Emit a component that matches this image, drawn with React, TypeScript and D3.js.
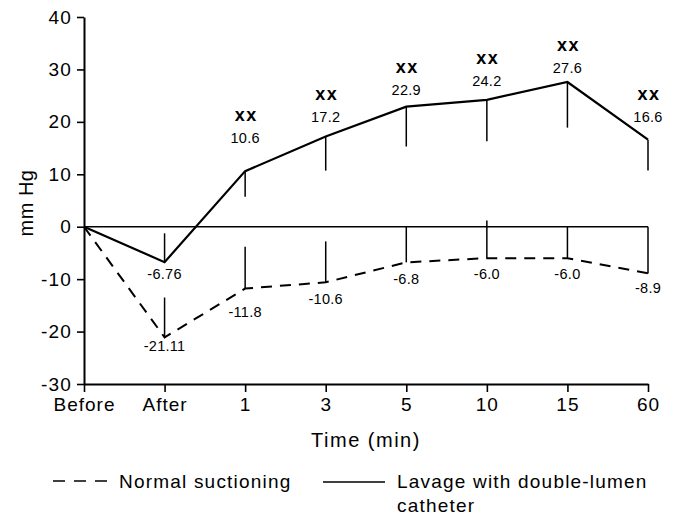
import React, { useEffect, useRef } from 'react';
import * as d3 from 'd3';

// categories on the time axis
const times = ['Before', 'After', '1', '3', '5', '10', '15', '60'];

// lavage with double-lumen catheter (solid)
const lavage = [0, -6.76, 10.6, 17.2, 22.9, 24.2, 27.6, 16.6];
const lavageSd = [0, 5.5, 4.9, 6.5, 7.6, 7.9, 8.7, 5.9];
const lavageMarks = ['', '', 'xx', 'xx', 'xx', 'xx', 'xx', 'xx'];

// normal suctioning (dashed)
const normal = [0, -21.11, -11.8, -10.6, -6.8, -6.0, -6.0, -8.9];
const normalSd = [0, 7.6, 8.0, 7.8, 6.8, 7.2, 6.0, 8.9];

const lavageLabels = ['', '-6.76', '10.6', '17.2', '22.9', '24.2', '27.6', '16.6'];
const normalLabels = ['', '-21.11', '-11.8', '-10.6', '-6.8', '-6.0', '-6.0', '-8.9'];

const yTicks = [40, 30, 20, 10, 0, -10, -20, -30];

const FONT = 'Liberation Sans, Arial, Helvetica, sans-serif';

const App = () => {
  const svgRef = useRef<SVGSVGElement>(null);

  useEffect(() => {
    const svg = d3.select(svgRef.current);
    svg.selectAll('*').remove();

    const width = 675;
    const height = 515;
    svg.attr('width', width).attr('height', height);

    const x = d3.scalePoint<string>().domain(times).range([84, 648]).padding(0);
    const y = d3.scaleLinear().domain([-30, 40]).range([384, 17]);

    // y axis
    svg.append('g')
      .attr('transform', 'translate(84,0)')
      .call(d3.axisLeft(y).tickValues(yTicks).tickFormat(d => String(d))
        .tickSize(7).tickSizeOuter(0).tickPadding(5))
      .call(g => g.select('.domain').attr('stroke-width', 2))
      .call(g => g.selectAll('.tick line').attr('stroke-width', 1.6))
      .call(g => g.selectAll('.tick text')
        .attr('font-family', FONT).attr('font-size', 19).attr('letter-spacing', 1.2).attr('fill', '#000'));

    // x axis
    svg.append('g')
      .attr('transform', `translate(0,${y(-30)})`)
      .call(d3.axisBottom(x).tickSize(8).tickSizeOuter(0).tickPadding(6))
      .call(g => g.select('.domain').attr('stroke-width', 2))
      .call(g => g.selectAll('.tick line').attr('stroke-width', 1.6))
      .call(g => g.selectAll('.tick text')
        .attr('font-family', FONT).attr('font-size', 19).attr('letter-spacing', 1).attr('fill', '#000'));

    // zero line
    svg.append('line')
      .attr('x1', x('Before')).attr('x2', x('60'))
      .attr('y1', y(0)).attr('y2', y(0))
      .attr('stroke', '#000').attr('stroke-width', 1.5);

    const line = d3.line<number>()
      .x((_, i) => x(times[i]) as number)
      .y(d => y(d));

    // error bars point towards zero
    const bars = (vals: number[], sds: number[]) => {
      svg.append('g').selectAll('line')
        .data(vals.map((v, i) => ({ v, sd: sds[i], t: times[i] })).filter(d => d.sd > 0))
        .join('line')
        .attr('x1', d => x(d.t) as number).attr('x2', d => x(d.t) as number)
        .attr('y1', d => y(d.v))
        .attr('y2', d => y(d.v - Math.sign(d.v) * d.sd))
        .attr('stroke', '#000').attr('stroke-width', 1.5);
    };
    bars(lavage, lavageSd);
    bars(normal, normalSd);

    svg.append('path')
      .datum(normal)
      .attr('d', line)
      .attr('fill', 'none').attr('stroke', '#000').attr('stroke-width', 2)
      .attr('stroke-dasharray', '11,8');

    svg.append('path')
      .datum(lavage)
      .attr('d', line)
      .attr('fill', 'none').attr('stroke', '#000').attr('stroke-width', 2.2);

    // label placement (px from the point to the text baseline)
    const lift = [0, -17, 28, 15, 12, 14, 9, 18];
    const drop = [0, 14, 28, 22, 22, 21, 21, 20];

    const lbl = svg.append('g')
      .attr('font-family', FONT).attr('text-anchor', 'middle').attr('fill', '#000');

    lavage.forEach((v, i) => {
      if (!lavageLabels[i]) return;
      const cx = x(times[i]) as number;
      const by = y(v) - lift[i];
      lbl.append('text')
        .attr('x', cx).attr('y', by)
        .attr('font-size', 14.5).attr('letter-spacing', 0.3)
        .text(lavageLabels[i]);
      if (lavageMarks[i]) {
        lbl.append('text')
          .attr('x', cx + 1).attr('y', by - 22)
          .attr('font-size', 18).attr('font-weight', 'bold').attr('letter-spacing', 1.5)
          .text(lavageMarks[i]);
      }
    });

    normal.forEach((v, i) => {
      if (!normalLabels[i]) return;
      lbl.append('text')
        .attr('x', x(times[i]) as number).attr('y', y(v) + drop[i])
        .attr('font-size', 14.5).attr('letter-spacing', 0.3)
        .text(normalLabels[i]);
    });

    // axis titles
    svg.append('text')
      .attr('x', 366).attr('y', 447)
      .attr('text-anchor', 'middle')
      .attr('font-family', FONT).attr('font-size', 20).attr('letter-spacing', 1.5)
      .text('Time (min)');

    svg.append('text')
      .attr('transform', 'translate(33,203) rotate(-90)')
      .attr('text-anchor', 'middle')
      .attr('font-family', FONT).attr('font-size', 20).attr('letter-spacing', 0.5)
      .text('mm Hg');

    // legend
    const leg = svg.append('g').attr('font-family', FONT).attr('font-size', 19).attr('letter-spacing', 1.2);
    leg.append('line')
      .attr('x1', 53).attr('x2', 108).attr('y1', 481).attr('y2', 481)
      .attr('stroke', '#000').attr('stroke-width', 1.6).attr('stroke-dasharray', '12,9');
    leg.append('text').attr('x', 119).attr('y', 488).text('Normal suctioning');
    leg.append('line')
      .attr('x1', 323).attr('x2', 385).attr('y1', 482).attr('y2', 482)
      .attr('stroke', '#000').attr('stroke-width', 1.6);
    leg.append('text').attr('x', 397).attr('y', 488).text('Lavage with double-lumen');
    leg.append('text').attr('x', 397).attr('y', 512).text('catheter');
  }, []);

  return <svg ref={svgRef} style={{ position: 'absolute', left: 0, top: 0 }}></svg>;
};

export default App;
